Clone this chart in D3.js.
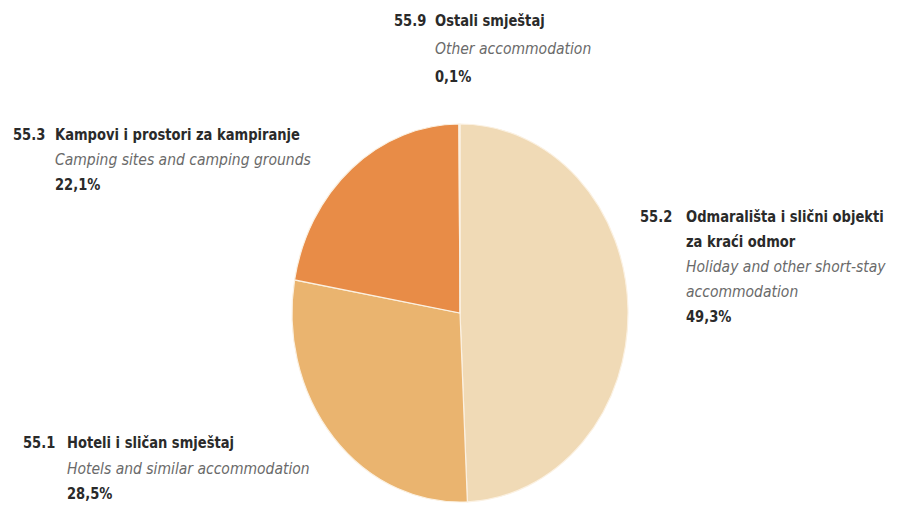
<!DOCTYPE html>
<html>
<head>
<meta charset="utf-8">
<script src="https://cdn.jsdelivr.net/npm/d3@7"></script>
<style>
  body { margin: 0; background: #fff; }
  text { font-family: "Liberation Sans Narrow", "DejaVu Sans Condensed", "Liberation Sans", sans-serif; }
  .code, .hr, .pct { font-weight: bold; fill: #2a2a2a; font-size: 15px; }
  .en { font-style: italic; fill: #6a6a6a; font-size: 15.5px; }
</style>
</head>
<body>
<div id="chart"></div>
<script>
;(function() {
  // slices, clockwise from 12 o'clock
  var codes = ['55.2', '55.1', '55.3', '55.9']
  var namesHr = [
    ['Odmarališta i slični objekti', 'za kraći odmor'],
    ['Hoteli i sličan smještaj'],
    ['Kampovi i prostori za kampiranje'],
    ['Ostali smještaj']
  ]
  var namesEn = [
    ['Holiday and other short-stay', 'accommodation'],
    ['Hotels and similar accommodation'],
    ['Camping sites and camping grounds'],
    ['Other accommodation']
  ]
  var shares = [49.3, 28.5, 22.1, 0.1]
  var colors = ['#f0dab6', '#eab46f', '#e88c47', '#5c7a6e']

  var width = 897
  var height = 505

  // label anchors: x of code, x of text, first baseline, line step
  var labelPos = [
    { x: 640, tx: 686, y: 222, step: 25 },
    { x: 23, tx: 67, y: 448, step: 25.5 },
    { x: 13, tx: 55, y: 140, step: 25 },
    { x: 394, tx: 435, y: 26, step: 28 }
  ]

  var svg = d3
    .select('#chart')
    .append('svg')
    .attr('width', width)
    .attr('height', height)

  var rx = 168
  var ry = 189
  var pieG = svg
    .append('g')
    .attr('transform', 'translate(460,313) scale(1,' + ry / rx + ')')

  var pie = d3.pie().sort(null).value(d => d)
  var arc = d3.arc().innerRadius(0).outerRadius(rx)

  pieG
    .selectAll('path')
    .data(pie(shares))
    .enter()
    .append('path')
    .attr('d', arc)
    .attr('fill', (d, i) => colors[i])
    .attr('stroke', '#fbf1e2')
    .attr('stroke-width', 1.2)
    .attr('vector-effect', 'non-scaling-stroke')

  var fmt = v => d3.format('.1f')(v).replace('.', ',') + '%'

  // squeeze glyphs a little so the text looks condensed like the original
  function squeeze(sel, k) {
    sel.each(function() {
      var w = this.getComputedTextLength() * k
      d3.select(this)
        .attr('textLength', w)
        .attr('lengthAdjust', 'spacingAndGlyphs')
    })
  }

  codes.forEach(function(code, i) {
    var p = labelPos[i]
    var g = svg.append('g')
    var y = p.y
    g.append('text').attr('class', 'code').attr('x', p.x).attr('y', y).text(code)
    namesHr[i].forEach(function(line) {
      g.append('text').attr('class', 'hr').attr('x', p.tx).attr('y', y).text(line)
      y += p.step
    })
    namesEn[i].forEach(function(line) {
      g.append('text').attr('class', 'en').attr('x', p.tx).attr('y', y).text(line)
      y += p.step
    })
    g.append('text').attr('class', 'pct').attr('x', p.tx).attr('y', y).text(fmt(shares[i]))
  })

  squeeze(svg.selectAll('.code, .hr, .pct'), 0.97)
  squeeze(svg.selectAll('.en'), 1)
})()
</script>
</body>
</html>
